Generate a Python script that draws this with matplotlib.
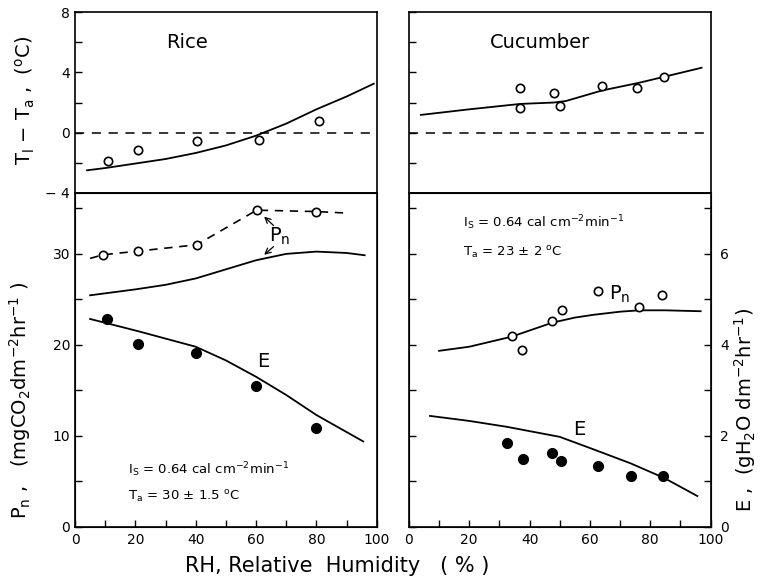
import matplotlib
matplotlib.use("Agg")
import matplotlib.pyplot as plt

# ---------------- data ----------------
# Rice, leaf-air temperature difference
rice_t_pts_x = [11, 21, 40.5, 61, 81]
rice_t_pts_y = [-1.87, -1.13, -0.58, -0.49, 0.8]
rice_t_curve_x = [4, 10, 20, 30, 40, 50, 60, 70, 80, 90, 99]
rice_t_curve_y = [-2.5, -2.35, -2.05, -1.75, -1.35, -0.85, -0.2, 0.6, 1.55, 2.4, 3.25]

# Cucumber, leaf-air temperature difference
cuc_t_pts_x = [36.9, 36.9, 48.2, 50.2, 64.0, 75.7, 84.7]
cuc_t_pts_y = [2.95, 1.62, 2.62, 1.78, 3.11, 2.98, 3.71]
cuc_t_curve_x = [4, 20, 37, 48, 52, 64, 76, 85, 97]
cuc_t_curve_y = [1.18, 1.55, 1.91, 2.0, 2.1, 2.8, 3.3, 3.73, 4.31]

# Rice Pn (measured, dashed) and model curve
rice_pn_pts_x = [9.2, 20.8, 40.3, 60.2, 80]
rice_pn_pts_y = [29.9, 30.3, 31.0, 34.8, 34.65]
rice_pn_dash_x = [5, 9.2, 20.8, 40.3, 60.2, 80, 89]
rice_pn_dash_y = [29.5, 29.9, 30.3, 31.0, 34.8, 34.65, 34.5]
rice_pn_curve_x = [5, 20, 30, 40, 50, 60, 70, 80, 90, 96]
rice_pn_curve_y = [25.45, 26.1, 26.6, 27.3, 28.3, 29.3, 30.0, 30.25, 30.1, 29.85]

# Rice E (gH2O dm-2 hr-1)
rice_e_pts_x = [10.5, 21, 40, 60, 80]
rice_e_pts_y = [4.58, 4.03, 3.82, 3.1, 2.18]
rice_e_curve_x = [5, 21, 40, 50, 60, 70, 80, 95.5]
rice_e_curve_y = [4.57, 4.3, 3.96, 3.66, 3.3, 2.9, 2.46, 1.88]

# Cucumber Pn
cuc_pn_pts_x = [34.1, 37.4, 47.6, 50.7, 62.6, 76.4, 83.9]
cuc_pn_pts_y = [21.0, 19.4, 22.6, 23.85, 25.9, 24.2, 25.5]
cuc_pn_curve_x = [10, 20, 34, 47.6, 55, 61, 70, 76.4, 85, 96.7]
cuc_pn_curve_y = [19.35, 19.8, 20.9, 22.45, 23.0, 23.3, 23.65, 23.8, 23.8, 23.7]

# Cucumber E
cuc_e_pts_x = [32.5, 37.7, 47.6, 50.5, 62.7, 73.6, 84.3]
cuc_e_pts_y = [1.85, 1.49, 1.62, 1.46, 1.33, 1.12, 1.11]
cuc_e_curve_x = [7, 20, 32.5, 50, 61, 73.4, 84.5, 95.6]
cuc_e_curve_y = [2.44, 2.33, 2.2, 1.98, 1.71, 1.4, 1.08, 0.68]

x_ticks = [0, 20, 40, 60, 80, 100]
t_ticks = [-4, 0, 4, 8]
pn_ticks = [0, 10, 20, 30]
e_ticks = [0, 2, 4, 6]

PN_TOP = 36.7
E_TOP = PN_TOP / 5.0

# ---------------- figure ----------------
plt.rcParams['font.family'] = ['DejaVu Sans']
fig = plt.figure(figsize=(7.6, 5.81), dpi=100)

L0, W = 0.0987, 0.397
R0 = 0.538
TB, TH = 0.668, 0.311
BB, BH = 0.093, 0.575

ax_tl = fig.add_axes([L0, TB, W, TH])
ax_tr = fig.add_axes([R0, TB, W, TH])
ax_bl = fig.add_axes([L0, BB, W, BH])
ax_br = fig.add_axes([R0, BB, W, BH])

lw = 1.3
open_kw = dict(marker='o', linestyle='none', markerfacecolor='white',
               markeredgecolor='black', markersize=6, markeredgewidth=1.2, zorder=5)
fill_kw = dict(marker='o', linestyle='none', color='black', markersize=7, zorder=5)

for ax in (ax_tl, ax_tr, ax_bl, ax_br):
    ax.set_xlim(0, 100)
    for s in ax.spines.values():
        s.set_linewidth(1.2)
    ax.tick_params(direction='in', length=5, width=1, labelsize=10)

# top panels
for ax in (ax_tl, ax_tr):
    ax.set_ylim(-4, 8)
    ax.set_yticks(t_ticks)
    ax.set_yticks([-2, 2, 6], minor=True)
    ax.set_xticks([])
    ax.axhline(0, color='black', linestyle=(0, (6, 5)), linewidth=1.1)
    ax.tick_params(which='minor', direction='in', length=5, width=1)
ax_tl.set_yticklabels(['\u2212 4', '0', '4', '8'])
ax_tr.set_yticklabels([])
ax_tr.tick_params(axis='y', which='both', length=5)

ax_tl.plot(rice_t_curve_x, rice_t_curve_y, color='black', lw=lw)
ax_tl.plot(rice_t_pts_x, rice_t_pts_y, **open_kw)
ax_tl.text(37, 6.0, 'Rice', fontsize=14, ha='center', va='center')

ax_tr.plot(cuc_t_curve_x, cuc_t_curve_y, color='black', lw=lw)
ax_tr.plot(cuc_t_pts_x, cuc_t_pts_y, **open_kw)
ax_tr.text(43.5, 6.0, 'Cucumber', fontsize=14, ha='center', va='center')

# bottom panels
for ax in (ax_bl, ax_br):
    ax.set_ylim(0, PN_TOP)
    ax.set_yticks(pn_ticks)
    ax.set_yticks([5, 15, 25, 35], minor=True)
    ax.set_xticks(x_ticks)
    ax.set_xticks([10, 30, 50, 70, 90], minor=True)
    ax.tick_params(which='minor', direction='in', length=5, width=1)
    ax.tick_params(axis='x', which='both', top=False, pad=4)
ax_bl.tick_params(axis='y', which='both', right=True)
ax_br.set_yticklabels([])

# E axes (shared scale E = Pn / 5)
e_bl = ax_bl.twinx()
e_bl.set_ylim(0, E_TOP)
e_bl.set_yticks([])
e_bl.set_xlim(0, 100)
e_br = ax_br.twinx()
e_br.set_ylim(0, E_TOP)
e_br.set_xlim(0, 100)
e_br.set_yticks(e_ticks)
e_br.set_yticks([1, 3, 5, 7], minor=True)
e_br.tick_params(axis='y', which='both', direction='in', length=5, width=1,
                 labelsize=10, pad=7)

# rice bottom
ax_bl.plot(rice_pn_dash_x, rice_pn_dash_y, color='black', lw=1.2, linestyle=(0, (5, 4)))
ax_bl.plot(rice_pn_pts_x, rice_pn_pts_y, **open_kw)
ax_bl.plot(rice_pn_curve_x, rice_pn_curve_y, color='black', lw=lw)
e_bl.plot(rice_e_curve_x, rice_e_curve_y, color='black', lw=lw)
e_bl.plot(rice_e_pts_x, rice_e_pts_y, **fill_kw)
ax_bl.text(68, 31.9, r'P$_{\rm n}$', fontsize=14, ha='center', va='center')
ax_bl.annotate('', xy=(62, 34.3), xytext=(66.5, 32.9),
               arrowprops=dict(arrowstyle='->', lw=0.9, color='black'))
ax_bl.annotate('', xy=(62, 29.7), xytext=(66.5, 31.0),
               arrowprops=dict(arrowstyle='->', lw=0.9, color='black'))
ax_bl.text(62.3, 18.2, 'E', fontsize=14, ha='center', va='center')
ax_bl.text(17.5, 6.3, r'I$_{\rm S}$ = 0.64 cal cm$^{-2}$min$^{-1}$', fontsize=9.5,
           ha='left', va='center')
ax_bl.text(17.5, 3.3, r'T$_{\rm a}$ = 30 $\pm$ 1.5 $^{\rm o}$C', fontsize=9.5,
           ha='left', va='center')

# cucumber bottom
ax_br.plot(cuc_pn_curve_x, cuc_pn_curve_y, color='black', lw=lw)
ax_br.plot(cuc_pn_pts_x, cuc_pn_pts_y, **open_kw)
e_br.plot(cuc_e_curve_x, cuc_e_curve_y, color='black', lw=lw)
e_br.plot(cuc_e_pts_x, cuc_e_pts_y, **fill_kw)
ax_br.text(70, 25.6, r'P$_{\rm n}$', fontsize=14, ha='center', va='center')
ax_br.text(56.6, 10.7, 'E', fontsize=14, ha='center', va='center')
ax_br.text(18, 33.4, r'I$_{\rm S}$ = 0.64 cal cm$^{-2}$min$^{-1}$', fontsize=9.5,
           ha='left', va='center')
ax_br.text(18, 30.1, r'T$_{\rm a}$ = 23 $\pm$ 2 $^{\rm o}$C', fontsize=9.5,
           ha='left', va='center')

# axis labels
fig.text(25 / 760, 1 - 100 / 581, r'T$_{\rm l}$ $-$ T$_{\rm a}$ ,  ($^{\rm o}$C)', rotation=90,
         fontsize=14, ha='center', va='center')
fig.text(20 / 760, 1 - 400 / 581,
         r'P$_{\rm n}$ ,   (mgCO$_2$dm$^{-2}$hr$^{-1}$ )', rotation=90,
         fontsize=14, ha='center', va='center')
fig.text(745 / 760, 1 - 410 / 581,
         r'E ,  (gH$_2$O dm$^{-2}$hr$^{-1}$)', rotation=90,
         fontsize=14, ha='center', va='center')
fig.text(337 / 760, 1 - 566 / 581, 'RH, Relative  Humidity   ( % )',
         fontsize=15, ha='center', va='center')

fig.savefig('out.png', dpi=100)
